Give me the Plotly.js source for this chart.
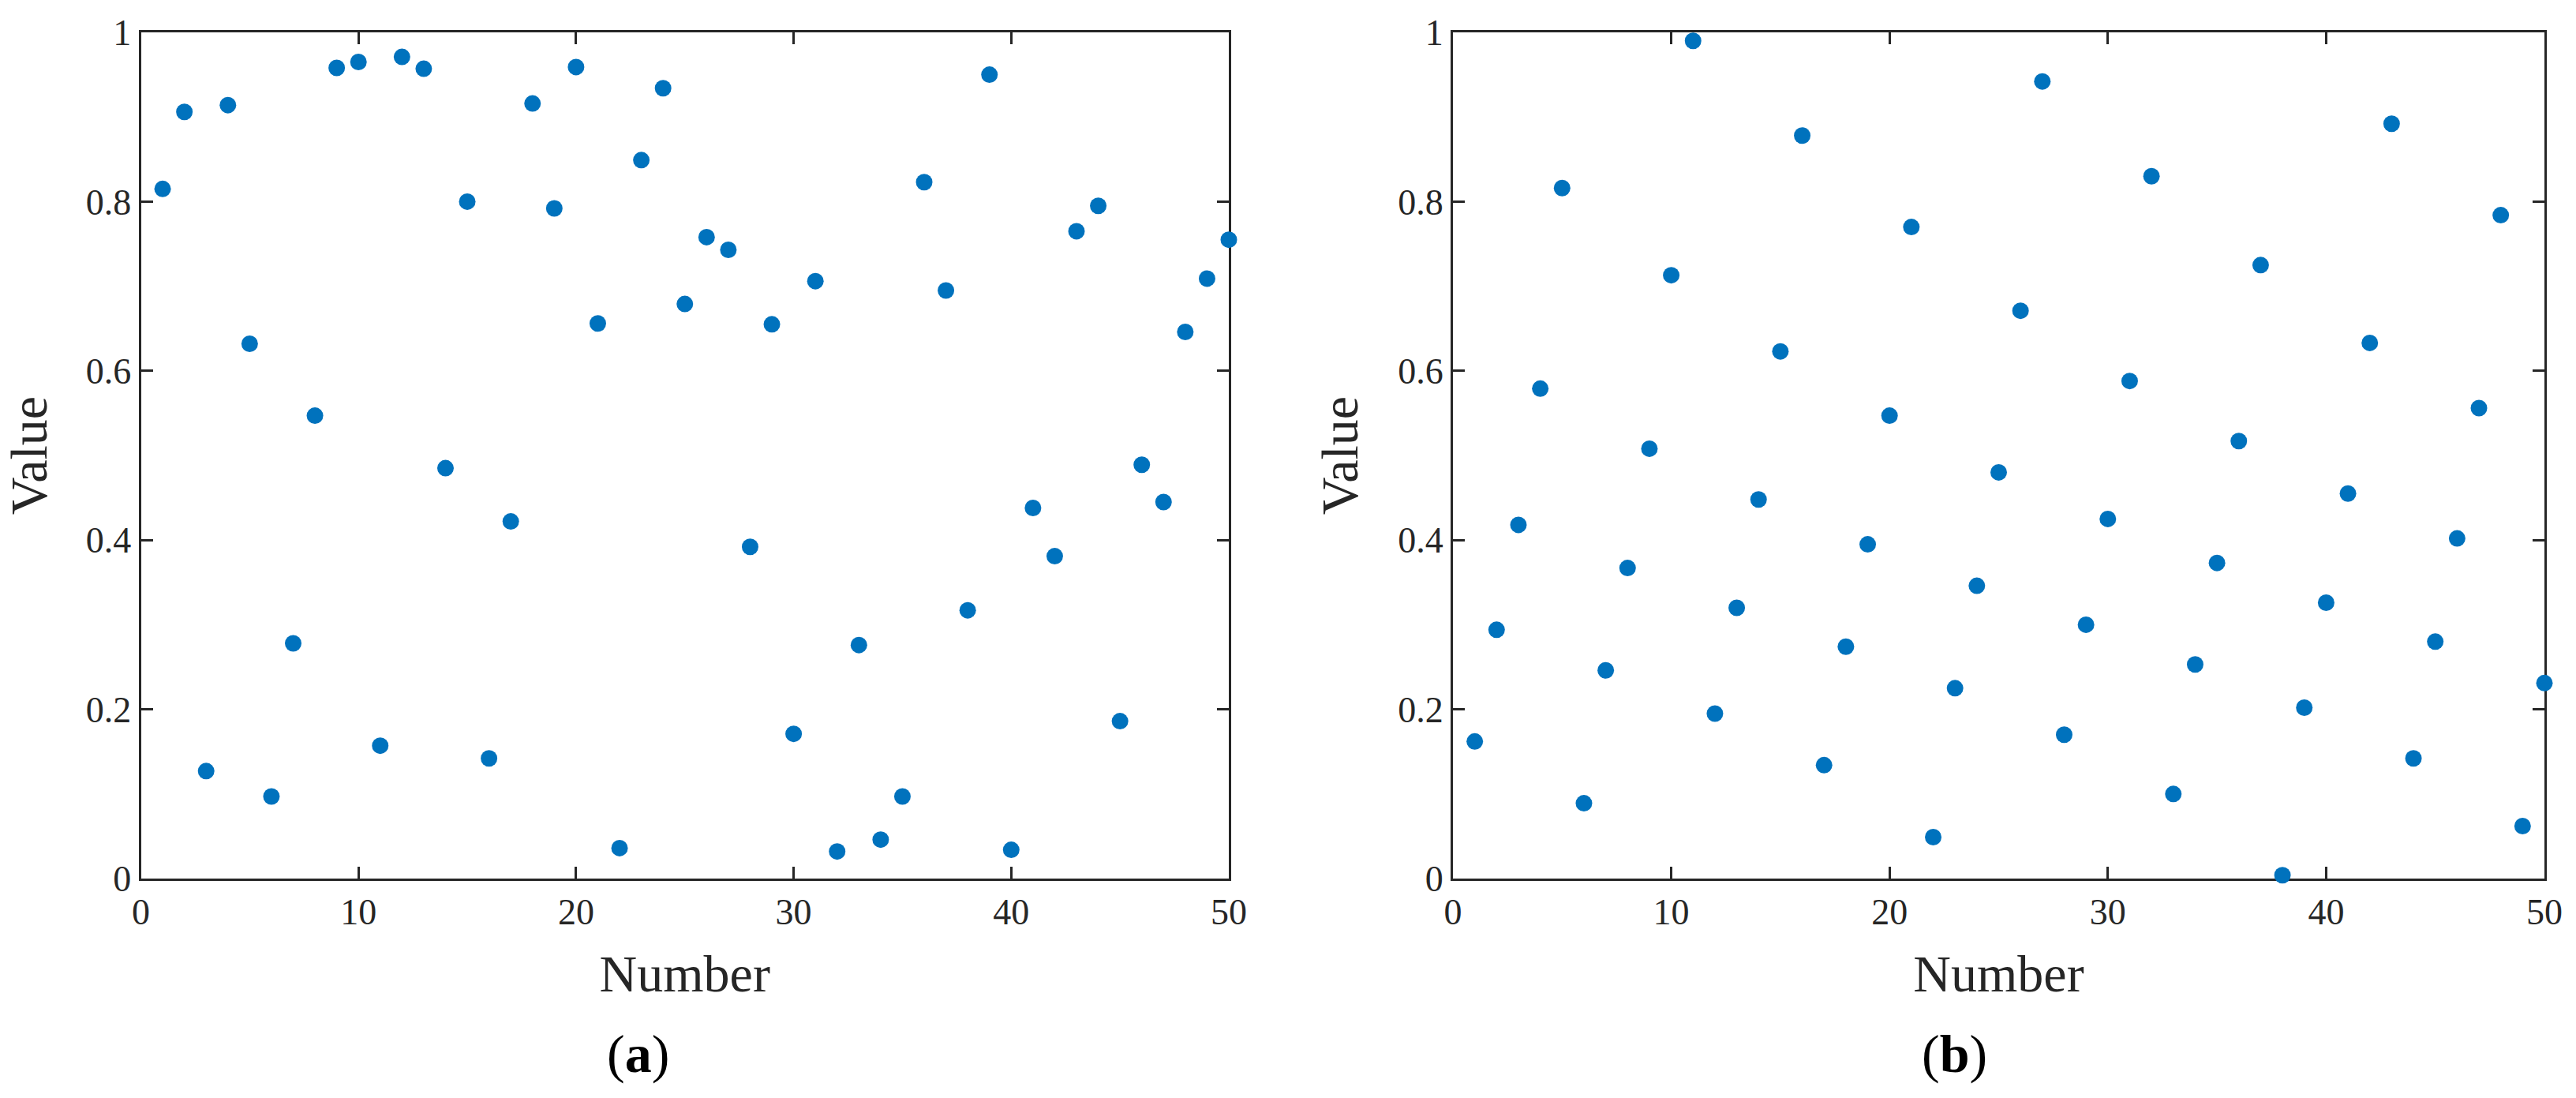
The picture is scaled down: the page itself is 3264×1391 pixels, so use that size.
<!DOCTYPE html>
<html>
<head>
<meta charset="utf-8">
<script src="https://cdn.plot.ly/plotly-3.0.1.min.js"></script>
<style>
  html, body { margin: 0; padding: 0; background: #fff; }
  #plotArea { width: 3264px; height: 1391px; }
</style>
</head>
<body>
<div id="plotArea"></div>
<script>
// sample index 1..50
var number = [];
for (var i = 1; i <= 50; i++) number.push(i);

// (a) values
var valuesA = [0.815, 0.906, 0.127, 0.914, 0.632, 0.097, 0.278, 0.547, 0.958, 0.965,
               0.157, 0.971, 0.957, 0.485, 0.800, 0.142, 0.422, 0.916, 0.792, 0.959,
               0.656, 0.036, 0.849, 0.934, 0.679, 0.758, 0.743, 0.392, 0.655, 0.171,
               0.706, 0.032, 0.276, 0.046, 0.097, 0.823, 0.695, 0.317, 0.950, 0.034,
               0.438, 0.381, 0.765, 0.795, 0.186, 0.489, 0.445, 0.646, 0.709, 0.755];

// (b) values
var valuesB = [0.162, 0.294, 0.418, 0.579, 0.816, 0.089, 0.246, 0.367, 0.508, 0.713,
               0.990, 0.195, 0.320, 0.448, 0.623, 0.878, 0.134, 0.274, 0.395, 0.547,
               0.770, 0.049, 0.225, 0.346, 0.480, 0.671, 0.942, 0.170, 0.300, 0.425,
               0.588, 0.830, 0.100, 0.253, 0.373, 0.517, 0.725, 0.004, 0.202, 0.326,
               0.455, 0.633, 0.892, 0.142, 0.280, 0.402, 0.556, 0.784, 0.062, 0.231];

var panelLabels = ["(<b>a</b>)", "(<b>b</b>)"];
var xTitle = "Number";
var yTitle = "Value";

var W = 3264, H = 1391;
var ink = "#262626";
var font = "Liberation Serif, Times New Roman, serif";

var traceA = {
    x: number, y: valuesA,
    mode: "markers", type: "scatter",
    marker: {color: "#0072BD", size: 21},
    cliponaxis: false,
    xaxis: "x", yaxis: "y"
};
var traceB = {
    x: number, y: valuesB,
    mode: "markers", type: "scatter",
    marker: {color: "#0072BD", size: 21},
    cliponaxis: false,
    xaxis: "x2", yaxis: "y2"
};

function xAxis(left, right) {
    return {
        domain: [left / W, right / W],
        range: [0, 50], dtick: 10, tick0: 0,
        showgrid: false, zeroline: false,
        showline: true, mirror: "ticks", linecolor: ink, linewidth: 3,
        ticks: "inside", ticklen: 15, tickwidth: 3, tickcolor: ink,
        tickfont: {family: font, size: 46, color: ink},
        layer: "below traces",
        title: {text: xTitle, font: {family: font, size: 66, color: ink}, standoff: 30},
        automargin: false, fixedrange: true
    };
}
function yAxis(anchor) {
    return {
        domain: [(H - 1113) / H, (H - 41) / H],
        anchor: anchor,
        range: [0, 1], dtick: 0.2, tick0: 0,
        showgrid: false, zeroline: false,
        showline: true, mirror: "ticks", linecolor: ink, linewidth: 3,
        ticks: "inside", ticklen: 15, tickwidth: 3, tickcolor: ink,
        tickfont: {family: font, size: 46, color: ink},
        layer: "below traces",
        title: {text: yTitle, font: {family: font, size: 66, color: ink}, standoff: 30},
        automargin: false, fixedrange: true
    };
}

var xa = xAxis(178.5, 1557); xa.anchor = "y";
var xb = xAxis(1841, 3224); xb.anchor = "y2";

var layout = {
    width: W, height: H,
    margin: {l: 0, r: 0, t: 0, b: 0},
    paper_bgcolor: "#fff", plot_bgcolor: "#fff",
    showlegend: false,
    xaxis: xa, yaxis: yAxis("x"),
    xaxis2: xb, yaxis2: yAxis("x2"),
    annotations: [
        {text: panelLabels[0], xref: "paper", yref: "paper", x: 808 / W, y: (H - 1335) / H,
         xanchor: "center", yanchor: "middle", showarrow: false,
         font: {family: font, size: 68, color: "#000"}},
        {text: panelLabels[1], xref: "paper", yref: "paper", x: 2476 / W, y: (H - 1335) / H,
         xanchor: "center", yanchor: "middle", showarrow: false,
         font: {family: font, size: 68, color: "#000"}}
    ]
};

Plotly.newPlot("plotArea", [traceA, traceB], layout, {displayModeBar: false, staticPlot: true});
</script>
</body>
</html>
